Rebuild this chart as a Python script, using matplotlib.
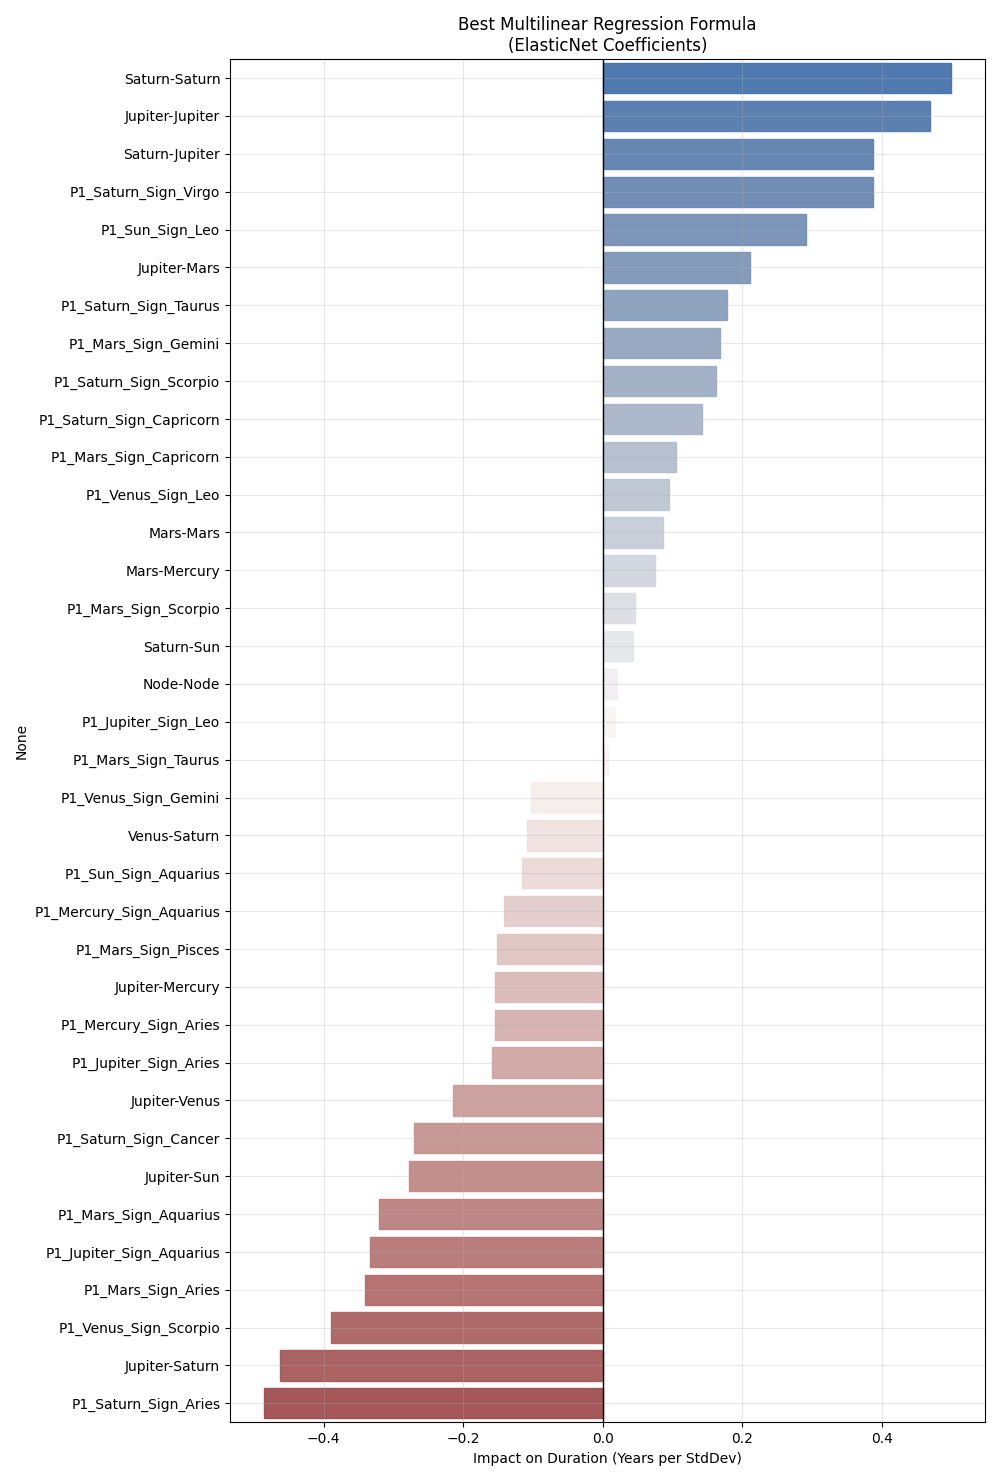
import numpy as np
import pandas as pd
import matplotlib
matplotlib.use("Agg")
import matplotlib.pyplot as plt
import seaborn as sns

# ElasticNet coefficients, sorted high to low
features = [
    "Saturn-Saturn", "Jupiter-Jupiter", "Saturn-Jupiter", "P1_Saturn_Sign_Virgo",
    "P1_Sun_Sign_Leo", "Jupiter-Mars", "P1_Saturn_Sign_Taurus", "P1_Mars_Sign_Gemini",
    "P1_Saturn_Sign_Scorpio", "P1_Saturn_Sign_Capricorn", "P1_Mars_Sign_Capricorn",
    "P1_Venus_Sign_Leo", "Mars-Mars", "Mars-Mercury", "P1_Mars_Sign_Scorpio",
    "Saturn-Sun", "Node-Node", "P1_Jupiter_Sign_Leo", "P1_Mars_Sign_Taurus",
    "P1_Venus_Sign_Gemini", "Venus-Saturn", "P1_Sun_Sign_Aquarius",
    "P1_Mercury_Sign_Aquarius", "P1_Mars_Sign_Pisces", "Jupiter-Mercury",
    "P1_Mercury_Sign_Aries", "P1_Jupiter_Sign_Aries", "Jupiter-Venus",
    "P1_Saturn_Sign_Cancer", "Jupiter-Sun", "P1_Mars_Sign_Aquarius",
    "P1_Jupiter_Sign_Aquarius", "P1_Mars_Sign_Aries", "P1_Venus_Sign_Scorpio",
    "Jupiter-Saturn", "P1_Saturn_Sign_Aries",
]
coefs = [
    0.499, 0.469, 0.387, 0.387, 0.292, 0.212, 0.179, 0.168, 0.162, 0.143,
    0.105, 0.095, 0.087, 0.075, 0.047, 0.044, 0.020, 0.018, 0.008,
    -0.102, -0.108, -0.115, -0.141, -0.151, -0.155, -0.155, -0.159, -0.215,
    -0.271, -0.278, -0.321, -0.334, -0.341, -0.389, -0.463, -0.485,
]

df = pd.DataFrame({"Coefficient": coefs}, index=features)

fig, ax = plt.subplots(figsize=(10, 14.8))
sns.barplot(x=df["Coefficient"], y=df.index, hue=df.index, palette="vlag",
            legend=False, alpha=0.95, ax=ax)
# thin outline in the bar's own colour
for bar in ax.patches:
    bar.set_edgecolor(bar.get_facecolor())
    bar.set_linewidth(1)
ax.axvline(0, color="black", linewidth=1)
ax.set_title("Best Multilinear Regression Formula\n(ElasticNet Coefficients)")
ax.set_xlabel("Impact on Duration (Years per StdDev)")
ax.set_ylabel("None")
ax.grid(True, alpha=0.3)
plt.subplots_adjust(left=0.23, right=0.985, top=0.96, bottom=0.039)
plt.savefig("out.png", dpi=100)
